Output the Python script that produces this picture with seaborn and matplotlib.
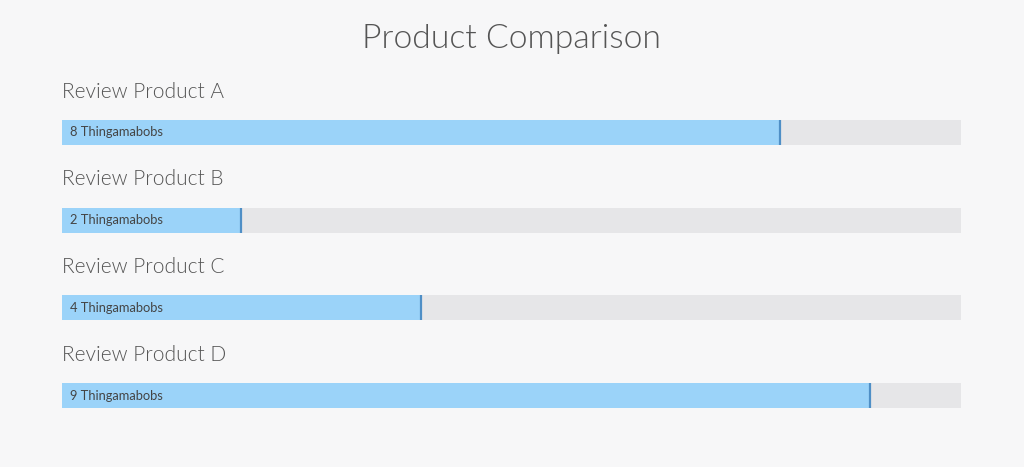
import matplotlib
matplotlib.use('Agg')
import matplotlib.pyplot as plt
import pandas as pd
import seaborn as sns

# Data
products = ['Review Product A', 'Review Product B', 'Review Product C', 'Review Product D']
scores = [8, 2, 4, 9]
max_score = 10
unit = 'Thingamabobs'

sns.set_theme(style='white')
plt.rcParams['font.family'] = ['Lato', 'DejaVu Sans']

bg = '#f7f7f8'
fig = plt.figure(figsize=(10.24, 4.67), dpi=100, facecolor=bg)
# axes spans pixel columns 62..961 and rows 60..440
ax = fig.add_axes([62 / 1024, 1 - 440 / 467, 899 / 1024, 380 / 467])
ax.set_facecolor(bg)

df = pd.DataFrame({'product': products, 'score': scores,
                   'track': [max_score] * len(products)})
bar_h = 0.285

sns.barplot(data=df, x='track', y='product', orient='h', color='#e6e6e8',
            width=bar_h, saturation=1, linewidth=0, ax=ax)
sns.barplot(data=df, x='score', y='product', orient='h', color='#9bd3f9',
            width=bar_h, saturation=1, linewidth=0, ax=ax)

# darker end marker on each value bar
for i, s in enumerate(scores):
    ax.vlines(s - 0.01, i - bar_h / 2, i + bar_h / 2, color='#4f8fc6', lw=1.6)
    ax.text(0.09, i, f'{s} {unit}', va='center', ha='left',
            fontsize=9.3, color='#444444')
    ax.text(0, i - 0.465, products[i], va='center', ha='left',
            fontsize=15, color='#555555', weight=300)

ax.set_xlim(0, max_score)
ax.set_ylim(3 + (440 - 395.5) / 87.67, -(132.5 - 60) / 87.67)
ax.axis('off')

fig.text(0.5, 1 - 39 / 467, 'Product Comparison', ha='center', va='center',
         fontsize=24.3, color='#555555', weight=300)

fig.savefig('out.png', dpi=100, facecolor=bg)
